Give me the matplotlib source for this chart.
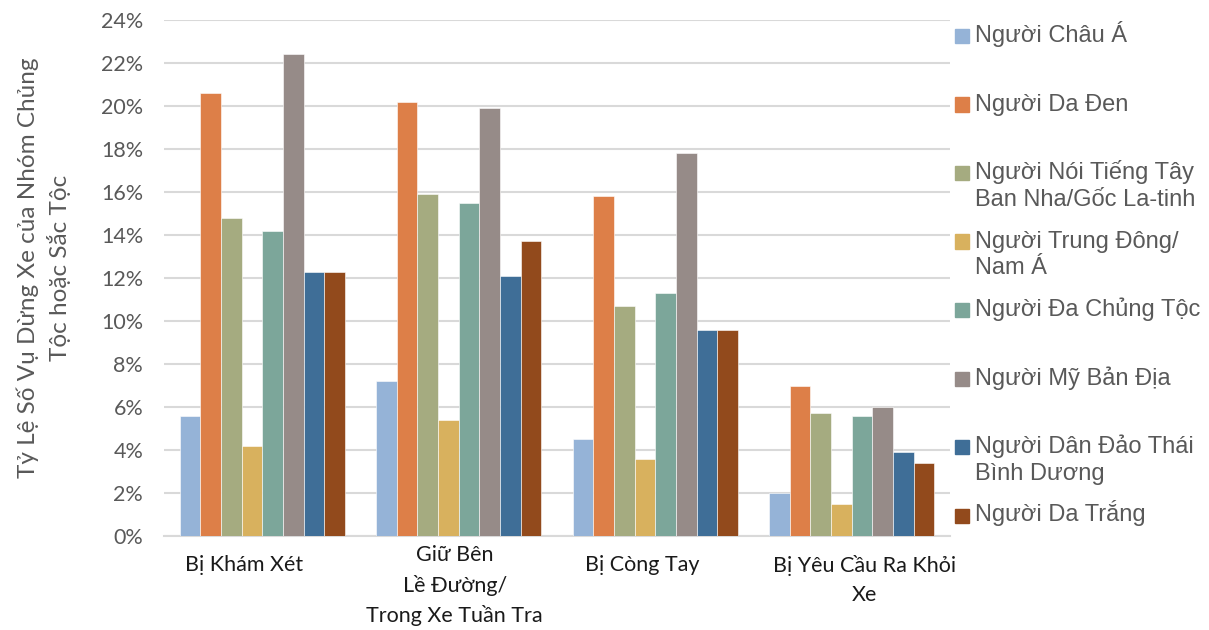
import numpy as np
import matplotlib.pyplot as plt
from matplotlib.patches import Rectangle
from matplotlib.ticker import PercentFormatter
from matplotlib.transforms import ScaledTranslation

categories = ["Bị Khám Xét", "Giữ Bên\nLề Đường/\nTrong Xe Tuần Tra",
              "Bị Còng Tay", "Bị Yêu Cầu Ra Khỏi\nXe"]
groups = ["Người Châu Á", "Người Da Đen",
          "Người Nói Tiếng Tây\nBan Nha/Gốc La-tinh",
          "Người Trung Đông/\nNam Á", "Người Đa Chủng Tộc",
          "Người Mỹ Bản Địa", "Người Dân Đảo Thái\nBình Dương",
          "Người Da Trắng"]
asian = [5.6, 7.2, 4.5, 2.0]
black = [20.6, 20.2, 15.8, 7.0]
hispanic = [14.8, 15.9, 10.7, 5.7]
mideast = [4.2, 5.4, 3.6, 1.5]
multi = [14.2, 15.5, 11.3, 5.6]
native = [22.4, 19.9, 17.8, 6.0]
pacific = [12.3, 12.1, 9.6, 3.9]
white = [12.3, 13.7, 9.6, 3.4]
series = [asian, black, hispanic, mideast, multi, native, pacific, white]
colors = ["#95b3d7", "#dd7f48", "#a5ab80", "#d8b15e",
          "#7ca69a", "#968b88", "#3f6e97", "#924a1c"]

fig = plt.figure(figsize=(12.09, 6.3), dpi=100)
ax = fig.add_axes([164 / 1209, 0.1492, 786 / 1209, 0.819])

x = np.arange(len(categories))
w = 0.105
for i, vals in enumerate(series):
    ax.bar(x + (i - 3.5) * w, vals, w, color=colors[i],
           edgecolor="white", linewidth=0.4, zorder=3)

ax.set_xlim(-0.5, 3.5)
ax.set_ylim(0, 24)
ax.set_yticks(np.arange(0, 25, 2))
ax.yaxis.set_major_formatter(PercentFormatter(decimals=0))
ax.grid(axis="y", color="#d9d9d9", linewidth=1.5, zorder=0)
for s in ["top", "right", "left"]:
    ax.spines[s].set_visible(False)
ax.spines["bottom"].set_color("#d9d9d9")
ax.spines["bottom"].set_linewidth(1.5)
ax.tick_params(axis="y", length=0, pad=15, labelsize=15.5, labelcolor="#595959")
ax.tick_params(axis="x", length=0, pad=14)
ax.set_xticks(x)
ax.set_xticklabels(categories, fontsize=15.5, family="Lato", color="#1a1a1a",
                   linespacing=1.55)
for t in ax.get_yticklabels():
    t.set_family("Lato")
# small nudges so the labels sit where the original puts them
shifts = [(-18, 0), (-4, 10), (-13, 0), (13, 0)]
for lab, (dx, dy) in zip(ax.get_xticklabels(), shifts):
    lab.set_transform(lab.get_transform() +
                      ScaledTranslation(dx / 100, dy / 100, fig.dpi_scale_trans))

fig.text(0.036, 0.575, "Tỷ Lệ Số Vụ Dừng Xe của Nhóm Chủng\nTộc hoặc Sắc Tộc",
         rotation=90, ha="center", va="center", fontsize=17.5,
         family="Lato", color="#595959", linespacing=1.4)

# legend drawn by hand so markers line up with the first line of text
for i, name in enumerate(groups):
    base = 42 + 68.5 * i
    fig.patches.append(Rectangle((955 / 1209, (630 - base - 1) / 630),
                                 14 / 1209, 14 / 630, color=colors[i],
                                 transform=fig.transFigure, figure=fig))
    for j, line in enumerate(name.split("\n")):
        fig.text(975 / 1209, (630 - base - 27 * j) / 630, line, ha="left",
                 va="baseline", fontsize=17, family="Liberation Sans",
                 color="#595959")

fig.savefig("out.png", dpi=100)
